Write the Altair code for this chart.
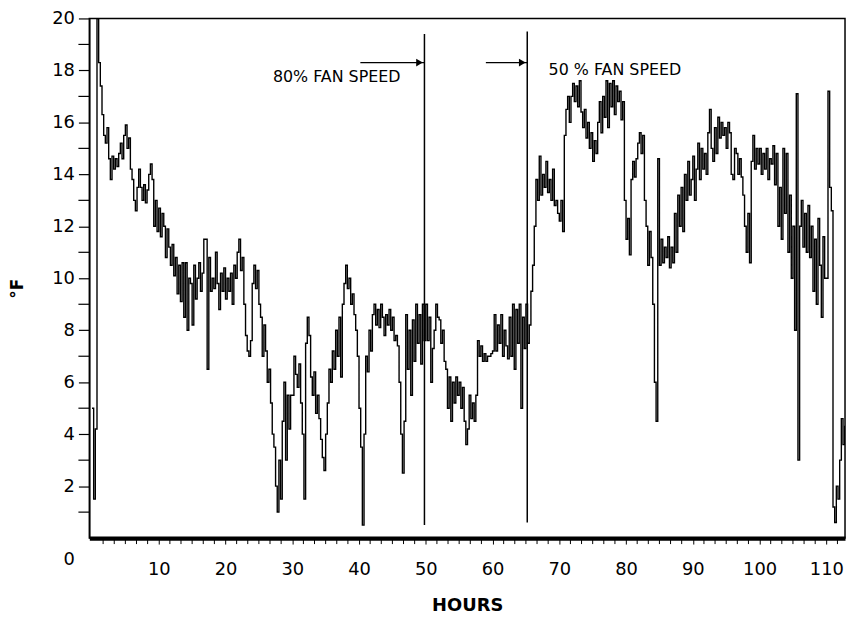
import altair as alt
import pandas as pd

# ---- data (0.25 h sampling) ----
temps = [
    5.0, 1.5, 4.2, 20.0, 18.3, 17.4, 16.3, 15.5,      # 0
    15.2, 15.8, 14.6, 13.8, 14.7, 14.2, 14.6, 14.3,   # 2
    14.8, 15.2, 14.6, 15.5, 15.9, 15.0, 15.4, 14.2,   # 4
    13.8, 13.0, 12.6, 13.5, 14.2, 13.5, 13.0, 13.6,   # 6
    12.9, 13.4, 14.0, 14.4, 13.8, 12.0, 13.0, 11.8,   # 8
    12.7, 11.6, 12.5, 12.0, 10.8, 11.9, 11.2, 10.5,   # 10
    11.3, 10.1, 10.8, 9.4, 10.5, 9.1, 10.6, 8.5,      # 12
    10.6, 8.0, 10.0, 9.8, 8.2, 10.5, 9.2, 10.0,       # 14
    10.6, 9.5, 10.2, 11.5, 11.5, 6.5, 10.8, 9.5,      # 16
    10.0, 9.6, 11.0, 9.8, 8.8, 10.2, 9.5, 10.4,       # 18
    9.2, 10.0, 9.5, 10.2, 9.0, 10.5, 10.0, 11.0,      # 20
    11.5, 10.3, 10.8, 9.0, 7.8, 7.2, 7.0, 7.6,        # 22
    9.8, 10.5, 9.6, 10.3, 9.0, 8.5, 7.0, 8.2,         # 24
    7.2, 6.0, 6.5, 5.2, 4.0, 3.5, 2.0, 1.0,           # 26
    3.0, 1.5, 4.5, 6.0, 3.0, 5.5, 4.2, 5.5,           # 28
    5.5, 7.0, 6.3, 5.8, 6.7, 5.2, 4.0, 1.5,           # 30
    7.5, 8.5, 7.8, 6.2, 5.5, 6.4, 4.8, 5.5,           # 32
    4.6, 3.8, 3.1, 2.6, 4.0, 5.2, 6.5, 6.0,           # 34
    7.2, 6.5, 8.0, 7.0, 8.5, 6.2, 9.0, 9.8,           # 36
    10.5, 9.6, 10.0, 9.0, 9.4, 8.6, 8.0, 7.0,         # 38
    5.0, 3.5, 0.5, 4.0, 7.0, 6.4, 8.0, 7.2,           # 40
    8.6, 9.0, 8.2, 8.8, 8.1, 9.0, 8.5, 7.8,           # 42
    8.6, 8.2, 8.8, 8.0, 8.5, 7.6, 7.8, 7.4,           # 44
    6.0, 4.0, 2.5, 4.5, 8.6, 6.5, 8.0, 5.5,           # 46
    8.4, 6.8, 9.0, 7.5, 8.6, 6.7, 9.0, 7.6,           # 48
    9.0, 7.6, 8.5, 6.0, 7.3, 8.0, 9.0, 8.5,           # 50
    8.4, 7.5, 8.0, 6.8, 6.5, 5.0, 6.2, 4.5,           # 52
    6.0, 5.2, 6.2, 5.5, 6.0, 5.0, 5.8, 4.5,           # 54
    3.6, 4.2, 5.5, 4.6, 5.2, 4.5, 5.5, 7.6,           # 56
    7.0, 7.4, 6.8, 7.1, 6.8, 7.0, 7.0, 7.1,           # 58
    7.2, 8.6, 7.2, 8.2, 7.5, 8.6, 7.0, 8.0,           # 60
    7.4, 6.9, 8.5, 7.0, 9.0, 6.5, 8.8, 7.5,           # 62
    9.0, 5.0, 8.5, 7.3, 9.0, 7.5, 8.2, 9.5,           # 64
    10.5, 12.0, 13.8, 13.0, 14.7, 13.2, 14.0, 13.5,   # 66
    14.5, 13.3, 13.8, 13.0, 14.2, 12.8, 13.0, 12.5,   # 68
    12.2, 13.0, 11.8, 15.5, 16.5, 17.0, 16.0, 17.0,   # 70
    17.5, 16.8, 17.4, 16.6, 17.6, 16.4, 15.8, 16.5,   # 72
    15.4, 16.0, 15.0, 15.6, 14.5, 15.3, 14.8, 16.0,   # 74
    16.8, 15.6, 17.0, 16.2, 17.6, 15.8, 17.5, 16.6,   # 76
    17.6, 16.3, 17.4, 16.8, 17.2, 16.1, 16.8, 13.0,   # 78
    11.5, 12.3, 10.9, 13.8, 14.5, 13.9, 14.6, 15.2,   # 80
    15.6, 14.8, 15.5, 13.0, 12.0, 10.5, 11.8, 10.8,   # 82
    9.0, 6.0, 4.5, 14.6, 10.5, 11.5, 10.6, 11.2,      # 84
    10.8, 11.6, 10.4, 11.2, 10.6, 12.5, 11.0, 13.2,   # 86
    12.0, 13.5, 11.8, 14.0, 13.0, 14.5, 13.2, 13.8,   # 88
    14.7, 13.0, 14.2, 15.2, 13.8, 15.0, 14.2, 14.8,   # 90
    14.0, 15.6, 16.5, 15.0, 14.5, 15.8, 14.8, 16.2,   # 92
    15.4, 16.0, 15.5, 15.8, 15.0, 16.0, 15.6, 14.0,   # 94
    13.8, 15.0, 14.8, 14.0, 14.6, 13.9, 13.2, 12.0,   # 96
    11.0, 12.5, 10.6, 14.5, 15.5, 14.2, 15.0, 14.4,   # 98
    15.0, 14.0, 14.8, 14.2, 15.0, 13.8, 14.6, 14.4,   # 100
    15.1, 13.6, 14.8, 12.0, 13.5, 11.5, 15.0, 12.5,   # 102
    14.8, 11.0, 13.2, 10.0, 12.0, 8.0, 17.1, 3.0,     # 104
    12.0, 13.0, 11.2, 12.5, 11.0, 12.8, 10.8, 12.0,   # 106
    9.5, 11.5, 9.0, 12.3, 10.5, 8.5, 11.6, 10.0,      # 108
    10.0, 17.2, 13.5, 12.6, 1.2, 0.6, 2.0, 1.5,       # 110
    3.0, 4.6, 3.6, 4.3, 3.2,                          # 112
]
hours = [i * 0.25 for i in range(len(temps))]

# fan-speed change markers
marker_hours = [49.8, 65.2]
marker_top = [19.4, 19.5]
marker_bottom = [0.5, 0.6]

# arrows
arrow_start = [40.2, 59.0]
arrow_end = [49.8, 65.2]
arrow_level = [18.3, 18.3]

# annotation texts
note_text = ["80% FAN SPEED", "50 % FAN SPEED"]
note_hour = [27.1, 68.4]
note_level = [17.75, 18.0]

x_label_values = [10, 20, 30, 40, 50, 60, 70, 80, 90, 100, 110]
y_label_values = [2, 4, 6, 8, 10, 12, 14, 16, 18, 20]
y_minor_values = [1, 3, 5, 7, 9, 11, 13, 15, 17, 19]
x_minor_values = [round(i * 10 / 6, 3) for i in range(0, 68) if i % 6 != 0]

X_DOMAIN = [-0.4, 112.8]
Y_DOMAIN = [0, 20]
PLOT_W, PLOT_H = 762, 524

df = pd.DataFrame({"h": hours, "t": temps})
markers = pd.DataFrame({"h": marker_hours, "top": marker_top, "bot": marker_bottom})
arrows = pd.DataFrame({"h0": arrow_start, "h1": arrow_end, "v": arrow_level})
notes = pd.DataFrame({"txt": note_text, "h": note_hour, "v": note_level})
zero = pd.DataFrame({"txt": ["0"], "h": [-3.4], "v": [-0.85]})
ymin = pd.DataFrame({"v": y_minor_values})
xmin = pd.DataFrame({"h": x_minor_values})

xs = alt.Scale(domain=X_DOMAIN, nice=False, zero=False)
ys = alt.Scale(domain=Y_DOMAIN, nice=False)

line = alt.Chart(df).mark_line(
    interpolate="step-after", color="black", strokeWidth=1.4, clip=True
).encode(
    x=alt.X("h:Q", scale=xs, axis=alt.Axis(
        values=x_label_values, format="d", tickSize=6, labelPadding=17,
        labelFontSize=18, domainWidth=4.5, tickWidth=1, labelFlush=False,
        labelOverlap=False, title="HOURS", titleFontSize=18,
        titleFontWeight="bold", titleY=68, titleBaseline="middle")),
    y=alt.Y("t:Q", scale=ys, axis=alt.Axis(
        values=y_label_values, format="d", tickSize=11, labelPadding=4,
        labelFontSize=18, domainWidth=1.5, tickWidth=1.2, labelOverlap=False,
        labelFlush=False, title="°F", titleFontSize=17, titleFontWeight="bold",
        titleX=-72, titleY=272, titleBaseline="middle")),
)

y_minor = alt.Chart(ymin).mark_rule(color="black", strokeWidth=1.2).encode(
    y=alt.Y("v:Q", scale=ys), x=alt.value(-11), x2=alt.value(0))

x_minor = alt.Chart(xmin).mark_rule(color="black", strokeWidth=1).encode(
    x=alt.X("h:Q", scale=xs), y=alt.value(PLOT_H), y2=alt.value(PLOT_H + 6))

rules = alt.Chart(markers).mark_rule(color="black", strokeWidth=1.5).encode(
    x="h:Q", y="top:Q", y2="bot:Q")

arrow_lines = alt.Chart(arrows).mark_rule(color="black", strokeWidth=1.5).encode(
    x="h0:Q", x2="h1:Q", y="v:Q")

arrow_heads = alt.Chart(arrows).mark_point(
    shape="triangle-right", filled=True, color="black", size=60, opacity=1, xOffset=-5
).encode(x="h1:Q", y="v:Q")

note_marks = alt.Chart(notes).mark_text(
    align="left", baseline="middle", fontSize=16, font="DejaVu Sans", color="black"
).encode(x="h:Q", y="v:Q", text="txt:N")

zero_mark = alt.Chart(zero).mark_text(
    align="center", baseline="middle", fontSize=18, font="DejaVu Sans", color="black"
).encode(x="h:Q", y="v:Q", text="txt:N")

chart = alt.layer(
    line, y_minor, x_minor, rules, arrow_lines, arrow_heads, note_marks, zero_mark
).properties(
    width=PLOT_W, height=PLOT_H,
    padding={"left": 82, "top": 8, "right": 2, "bottom": 76},
    autosize=alt.AutoSizeParams(type="none"),
).configure_view(
    stroke="black", strokeWidth=1.5
).configure_axis(
    labelFont="DejaVu Sans", titleFont="DejaVu Sans", labelColor="black",
    titleColor="black", domainColor="black", tickColor="black", grid=False,
)

chart.save("out.html", embed_options={"renderer": "svg", "actions": False})
